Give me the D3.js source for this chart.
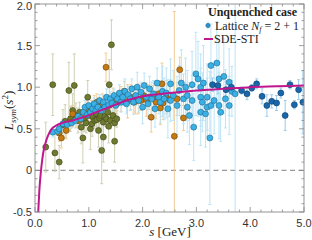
<!DOCTYPE html>
<html>
<head>
<meta charset="utf-8">
<script src="https://cdn.jsdelivr.net/npm/d3@7"></script>
<style>
  body { margin: 0; background: #fff; }
  svg { display: block; }
</style>
</head>
<body>
<svg id="chart" width="312" height="240"></svg>
<script>
// lattice set 1 (olive)
let oliveS = [0.20, 0.33, 0.37, 0.45, 0.52, 0.56, 0.63, 0.66, 0.70, 0.73, 0.76, 0.80, 0.83, 0.86, 0.89, 0.92, 0.95, 0.98, 1.00, 1.03, 1.06, 1.08, 1.11, 1.14, 1.15, 1.18, 1.20, 1.22, 1.24, 1.27, 1.27, 1.30, 1.33, 1.35, 1.37, 1.38, 1.40, 1.42, 1.45, 1.48, 1.48, 1.52];
let oliveV = [0.28, 1.03, 0.21, 0.10, 0.55, 0.59, 0.96, 0.62, 0.72, 1.02, 0.66, 0.60, 0.70, 0.52, 0.39, 0.62, 0.57, 0.88, 0.66, 0.50, 0.56, 0.64, 0.60, 0.68, 0.61, 0.48, 0.63, 0.66, 0.24, 0.58, 0.40, 0.65, 0.62, 0.70, 0.53, 1.03, 0.60, 1.51, 0.66, 0.57, 0.35, 0.62];
let oliveE = [0.30, 0.37, 0.22, 0.20, 0.18, 0.20, 0.34, 0.15, 0.20, 0.38, 0.15, 0.15, 0.12, 0.20, 0.30, 0.15, 0.12, 0.20, 0.10, 0.25, 0.15, 0.12, 0.10, 0.15, 0.10, 0.20, 0.12, 0.10, 0.40, 0.15, 0.30, 0.12, 0.10, 0.15, 0.20, 0.30, 0.10, 0.30, 0.12, 0.20, 0.25, 0.10];

// lattice set 2 (orange)
let orangeS = [0.45, 0.49, 0.58, 0.66, 0.70, 0.78, 0.83, 0.90, 0.95, 0.99, 1.05, 1.10, 1.15, 1.20, 1.25, 1.32, 1.38, 1.45, 1.52, 1.60, 1.66, 1.72, 1.78, 1.84, 1.87, 1.92, 1.97, 2.02, 2.07, 2.12, 2.16, 2.20, 2.25, 2.30, 2.33, 2.36, 2.38, 2.44, 2.50, 2.59, 2.64, 2.69, 2.76];
let orangeV = [0.45, 0.39, 0.48, 0.58, 0.68, 0.62, 0.60, 0.66, 0.72, 0.68, 0.74, 0.78, 0.82, 0.74, 0.80, 1.24, 0.78, 0.84, 0.80, 0.86, 0.95, 0.83, 0.88, 0.82, 0.83, 0.86, 0.84, 0.90, 0.85, 0.88, 0.64, 0.87, 0.82, 0.92, 0.75, 1.04, 0.81, 0.88, 0.85, 0.41, 0.86, 1.21, 0.63];
let orangeE = [0.10, 0.12, 0.10, 0.08, 0.10, 0.10, 0.08, 0.10, 0.12, 0.10, 0.10, 0.12, 0.10, 0.10, 0.12, 0.17, 0.12, 0.15, 0.12, 0.15, 0.12, 0.20, 0.15, 0.12, 0.15, 0.18, 0.12, 0.15, 0.20, 0.15, 0.18, 0.15, 0.20, 0.12, 0.20, 0.25, 0.20, 0.20, 0.20, 1.50, 0.20, 0.15, 0.15];

// lattice set 3 (light blue)
let blueS = [0.33, 0.42, 0.45, 0.52, 0.60, 0.68, 0.75, 0.80, 0.85, 0.90, 0.93, 0.97, 1.00, 1.03, 1.07, 1.10, 1.13, 1.17, 1.20, 1.23, 1.27, 1.30, 1.33, 1.37, 1.40, 1.43, 1.47, 1.50, 1.53, 1.57, 1.60, 1.63, 1.67, 1.70, 1.73, 1.77, 1.80, 1.83, 1.87, 1.90, 1.93, 1.97, 2.00, 2.03, 2.07, 2.10, 2.13, 2.17, 2.20, 2.23, 2.27, 2.30,
             2.33, 2.37, 2.40, 2.44, 2.47, 2.52, 2.52, 2.57, 2.64, 2.68, 2.72, 2.76, 2.80, 2.83, 2.83, 2.87, 2.92, 2.92, 2.95, 2.99, 3.03, 3.08, 3.08, 3.08, 3.11, 3.13, 3.17, 3.20, 3.20, 3.25, 3.27, 3.27, 3.33, 3.38, 3.42, 3.42, 3.45, 3.51, 3.54, 3.61, 3.61, 3.66, 3.72];
let blueV = [0.46, 0.47, 0.50, 0.56, 0.55, 0.57, 0.60, 0.65, 0.62, 0.70, 0.76, 0.67, 0.78, 0.70, 0.74, 0.80, 0.72, 0.76, 0.84, 0.72, 0.82, 0.76, 0.88, 0.79, 0.86, 0.81, 0.90, 0.78, 0.86, 0.93, 0.82, 0.88, 0.95, 0.80, 0.91, 0.86, 0.98, 0.82, 0.90, 1.00, 0.84, 0.94, 0.76, 1.02, 0.88, 0.80, 0.98, 0.86, 0.92, 0.74, 1.05, 0.88,
             0.82, 0.95, 0.86, 0.93, 0.74, 1.04, 0.84, 0.90, 0.78, 0.96, 1.05, 0.86, 1.00, 0.90, 0.76, 0.66, 1.03, 0.84, 0.52, 1.16, 1.10, 1.00, 0.88, 0.70, 0.82, 1.05, 0.68, 0.88, 0.76, 0.39, 1.26, 0.78, 0.84, 1.29, 1.10, 0.78, 0.70, 1.13, 0.86, 1.06, 0.78, 0.95, 0.92];
let blueE = [0.06, 0.05, 0.06, 0.05, 0.05, 0.06, 0.05, 0.06, 0.05, 0.07, 0.08, 0.06, 0.07, 0.06, 0.08, 0.07, 0.06, 0.08, 0.07, 0.10, 0.08, 0.07, 0.10, 0.08, 0.09, 0.10, 0.08, 0.12, 0.09, 0.10, 0.12, 0.10, 0.15, 0.12, 0.10, 0.14, 0.12, 0.15, 0.12, 0.18, 0.14, 0.12, 0.20, 0.15, 0.14, 0.18, 0.15, 0.20, 0.16, 0.22, 0.18, 0.20,
             0.25, 0.30, 0.25, 0.30, 0.35, 0.30, 0.25, 0.30, 0.35, 0.30, 0.40, 0.30, 0.35, 0.30, 0.30, 0.35, 0.40, 0.30, 0.40, 0.50, 0.45, 0.40, 0.35, 0.40, 0.35, 0.45, 0.40, 0.40, 0.35, 0.80, 0.50, 0.40, 0.40, 0.50, 0.45, 0.40, 0.35, 0.45, 0.35, 0.40, 0.35, 0.30, 1.50];

// lattice set 4 (dark blue)
let darkS = [3.30, 3.40, 3.55, 3.65, 3.84, 3.94, 4.03, 4.12, 4.22, 4.31, 4.40, 4.49, 4.57, 4.65, 4.74, 4.82, 4.90, 4.98];
let darkV = [1.03, 1.02, 0.97, 1.00, 0.96, 0.92, 0.99, 1.04, 0.89, 0.78, 0.83, 0.81, 0.93, 0.66, 1.03, 0.79, 0.97, 0.82];
let darkE = [0.08, 0.10, 0.10, 0.08, 0.04, 0.07, 0.04, 0.06, 0.09, 0.13, 0.08, 0.09, 0.06, 0.18, 0.05, 0.05, 0.12, 0.38];

// SDE-STI curve
let curveS = [0.06, 0.08, 0.10, 0.12, 0.15, 0.20, 0.25, 0.30, 0.40, 0.50, 0.70, 0.90, 1.10, 1.30, 1.50, 1.70, 2.00, 2.50, 3.00, 3.50, 4.00, 4.50, 5.00];
let curveV = [-0.50, -0.25, -0.08, 0.05, 0.20, 0.34, 0.43, 0.49, 0.54, 0.57, 0.60, 0.64, 0.69, 0.74, 0.79, 0.84, 0.89, 0.93, 0.96, 0.98, 1.00, 1.01, 1.02];

let xTicks = [0, 1, 2, 3, 4, 5];
let yTicks = [-0.5, 0, 0.5, 1.0, 1.5, 2.0];
let yTickLabels = ["-0.5", "0", "0.5", "1.0", "1.5", "2.0"];

let margin = {top: 4, right: 8, bottom: 28, left: 35};
let width = 312, height = 240;
let svg = d3.select("#chart");

let x = d3.scaleLinear().domain([0, 5]).range([margin.left, width - margin.right]);
let y = d3.scaleLinear().domain([-0.5, 2]).range([height - margin.bottom, margin.top]);

svg.append("defs").append("clipPath").attr("id", "clip")
    .append("rect")
    .attr("x", margin.left).attr("y", margin.top)
    .attr("width", x(5) - x(0)).attr("height", y(-0.5) - y(2));

// zero line
svg.append("line")
    .attr("x1", x(0)).attr("x2", x(5))
    .attr("y1", y(0)).attr("y2", y(0))
    .attr("stroke", "#999").attr("stroke-width", 1.3)
    .attr("stroke-dasharray", "5,3.5");

let sets = [
    {s: oliveS, v: oliveV, e: oliveE, fill: "#6e7a30", stroke: "#3c4516", bar: "#cfd0b4"},
    {s: orangeS, v: orangeV, e: orangeE, fill: "#c47a0f", stroke: "#6e4305", bar: "#f1cd98"},
    {s: blueS, v: blueV, e: blueE, fill: "#3bb0e4", stroke: "#1b6890", bar: "#bde4f6"},
    {s: darkS, v: darkV, e: darkE, fill: "#1967aa", stroke: "#0b3a66", bar: "#9ccdea"},
];

let plot = svg.append("g").attr("clip-path", "url(#clip)");

// error bars first
sets.forEach(set => {
    let pts = set.s.map((s, i) => ({s: s, v: set.v[i], e: set.e[i]}));
    let g = plot.append("g");
    g.selectAll("line.bar").data(pts).join("line")
        .attr("x1", d => x(d.s)).attr("x2", d => x(d.s))
        .attr("y1", d => y(d.v - d.e)).attr("y2", d => y(d.v + d.e))
        .attr("stroke", set.bar).attr("stroke-width", 1);
    g.selectAll("line.capt").data(pts).join("line")
        .attr("x1", d => x(d.s) - 1.5).attr("x2", d => x(d.s) + 1.5)
        .attr("y1", d => y(d.v + d.e)).attr("y2", d => y(d.v + d.e))
        .attr("stroke", set.bar).attr("stroke-width", 1);
    g.selectAll("line.capb").data(pts).join("line")
        .attr("x1", d => x(d.s) - 1.5).attr("x2", d => x(d.s) + 1.5)
        .attr("y1", d => y(d.v - d.e)).attr("y2", d => y(d.v - d.e))
        .attr("stroke", set.bar).attr("stroke-width", 1);
});

// markers
sets.forEach(set => {
    let pts = set.s.map((s, i) => ({s: s, v: set.v[i]}));
    plot.append("g").selectAll("circle").data(pts).join("circle")
        .attr("cx", d => x(d.s)).attr("cy", d => y(d.v))
        .attr("r", 3)
        .attr("fill", set.fill)
        .attr("stroke", set.stroke).attr("stroke-width", 0.6);
});

// SDE-STI curve
let line = d3.line()
    .x(d => x(d[0]))
    .y(d => y(d[1]))
    .curve(d3.curveMonotoneX);
plot.append("path")
    .datum(curveS.map((s, i) => [s, curveV[i]]))
    .attr("fill", "none")
    .attr("stroke", "#c0168e")
    .attr("stroke-width", 2)
    .attr("d", line);

// frame and ticks
let xMinor = d3.range(0, 5.001, 0.2);
let yMinor = d3.range(-0.5, 2.001, 0.1);
let axisG = svg.append("g").attr("stroke", "#888").attr("stroke-width", 0.8);
xMinor.forEach(t => {
    let major = Math.abs(t - Math.round(t)) < 1e-6;
    let len = major ? 5 : 2.5;
    axisG.append("line").attr("x1", x(t)).attr("x2", x(t)).attr("y1", y(-0.5)).attr("y2", y(-0.5) - len);
    axisG.append("line").attr("x1", x(t)).attr("x2", x(t)).attr("y1", y(2)).attr("y2", y(2) + len);
});
yMinor.forEach(t => {
    let major = Math.abs(t * 2 - Math.round(t * 2)) < 1e-6;
    let len = major ? 5 : 2.5;
    axisG.append("line").attr("x1", x(0)).attr("x2", x(0) + len).attr("y1", y(t)).attr("y2", y(t));
    axisG.append("line").attr("x1", x(5)).attr("x2", x(5) - len).attr("y1", y(t)).attr("y2", y(t));
});
svg.append("rect")
    .attr("x", x(0)).attr("y", y(2))
    .attr("width", x(5) - x(0)).attr("height", y(-0.5) - y(2))
    .attr("fill", "none").attr("stroke", "#888").attr("stroke-width", 0.9);

// tick labels
svg.append("g").selectAll("text").data(xTicks).join("text")
    .attr("x", d => x(d)).attr("y", y(-0.5) + 15)
    .attr("text-anchor", "middle")
    .style("font-family", "Liberation Sans, Arial, sans-serif")
    .style("font-size", "11px").attr("fill", "#333")
    .text(d => d.toFixed(1));
svg.append("g").selectAll("text").data(yTicks).join("text")
    .attr("x", x(0) - 3).attr("y", d => Math.max(y(d) + 4, 10))
    .attr("text-anchor", "end")
    .style("font-family", "Liberation Sans, Arial, sans-serif")
    .style("font-size", "11px").attr("fill", "#333")
    .text((d, i) => yTickLabels[i]);

// axis titles
let serif = "Liberation Serif, Times New Roman, serif";
let xl = svg.append("text")
    .attr("x", 170).attr("y", 236)
    .attr("text-anchor", "middle")
    .style("font-family", serif).style("font-size", "13px").attr("fill", "#222");
xl.append("tspan").style("font-style", "italic").text("s");
xl.append("tspan").text(" [GeV]");

let yl = svg.append("text")
    .attr("transform", `translate(13, ${y(0.72)}) rotate(-90)`)
    .attr("text-anchor", "middle")
    .style("font-family", serif).style("font-size", "13px").attr("fill", "#222");
yl.append("tspan").style("font-style", "italic").text("L");
yl.append("tspan").style("font-style", "italic").style("font-size", "9px").attr("dy", 3).text("sym");
yl.append("tspan").attr("dy", -3).text("(");
yl.append("tspan").style("font-style", "italic").text("s");
yl.append("tspan").style("font-size", "9px").attr("dy", -5).text("2");
yl.append("tspan").attr("dy", 5).text(")");

// legend
let lg = svg.append("g").style("font-family", serif).attr("fill", "#222");
lg.append("text").attr("x", 208).attr("y", 16)
    .style("font-size", "12px").style("font-weight", "bold")
    .text("Unquenched case");
lg.append("line").attr("x1", 208).attr("x2", 208).attr("y1", 21).attr("y2", 29)
    .attr("stroke", "#bde4f6").attr("stroke-width", 1);
lg.append("circle").attr("cx", 208).attr("cy", 25.5).attr("r", 2.2)
    .attr("fill", "#2f8fc8").attr("stroke", "#1b6890").attr("stroke-width", 0.5);
let lt = lg.append("text").attr("x", 215).attr("y", 29.5).style("font-size", "12px");
lt.append("tspan").text("Lattice ");
lt.append("tspan").style("font-style", "italic").text("N");
lt.append("tspan").style("font-style", "italic").style("font-size", "8px").attr("dy", 2).text("f");
lt.append("tspan").attr("dy", -2).text(" = 2 + 1");
lg.append("line").attr("x1", 204).attr("x2", 213).attr("y1", 39).attr("y2", 39)
    .attr("stroke", "#c0168e").attr("stroke-width", 2);
lg.append("text").attr("x", 214).attr("y", 43).style("font-size", "12px").text("SDE-STI");
</script>
</body>
</html>
